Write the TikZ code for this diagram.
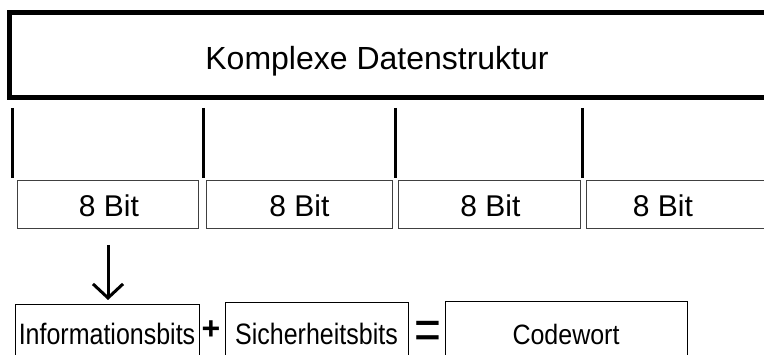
\documentclass[tikz,border=0pt]{standalone}
\usepackage{fontspec}
\setmainfont{Liberation Sans}
\usetikzlibrary{arrows.meta}
\newcommand{\tallbox}[2]{\scalebox{1}[#1]{#2}}
\begin{document}
\begin{tikzpicture}[x=1pt,y=-1pt,
  bigbox/.style={draw,line width=5pt,inner sep=0pt,outer sep=0pt},
  vline/.style={line width=3pt},
  bitbox/.style={draw=black!75,line width=1pt,inner sep=0pt,outer sep=0pt,minimum height=48pt},
  bittext/.style={font=\fontsize{30}{34}\selectfont,inner sep=0pt},
  lowbox/.style={draw,line width=1pt,inner sep=0pt,outer sep=0pt,anchor=north,
    font=\fontsize{25}{30}\selectfont},
  arr/.style={line width=3pt,-{Straight Barb[length=14pt,width=30pt,line width=3pt]}}]
\useasboundingbox (0,0) rectangle (764,355);
\clip (0,0) rectangle (764,355);
% top box
\node[bigbox,anchor=north west,minimum width=800pt,minimum height=85.5pt] (kds) at (9.5,12.5) {};
\node[font=\fontsize{32}{38}\selectfont,inner sep=0pt] (title) at (377,61) {Komplexe Datenstruktur};
% vertical lines
\foreach \i/\x in {1/12,2/203,3/395,4/582}{
  \coordinate (t\i) at (\x,108);
  \coordinate (u\i) at (\x,178);
  \draw[vline] (t\i) -- (u\i);
}
% 8 bit boxes
\node[bitbox,minimum width=181pt] (b1) at (107.5,204.5) {};
\node[bitbox,minimum width=186pt] (b2) at (299,204.5) {};
\node[bitbox,minimum width=182pt] (b3) at (489,204.5) {};
\node[bitbox,minimum width=214pt] (b4) at (693,204.5) {};
\node[bittext] (l1) at (109,205.5) {8 Bit};
\node[bittext] (l2) at (299.5,205.5) {8 Bit};
\node[bittext] (l3) at (490.5,205.5) {8 Bit};
\node[bittext] (l4) at (663,205.5) {8 Bit};
% bottom row
\node[lowbox,minimum width=184pt,minimum height=58pt] (info) at (107,305) {\tallbox{1.18}{Informationsbits}};
\node[lowbox,minimum width=183pt,minimum height=62pt] (sich) at (316.5,303) {\tallbox{1.18}{Sicherheitsbits}};
\node[lowbox,minimum width=242pt,minimum height=64pt] (code) at (566,302) {\tallbox{1.12}{Codewort}};
\node[inner sep=0pt,font=\bfseries\fontsize{32}{34}\selectfont] (plus) at (211,330) {+};
\node[inner sep=0pt,font=\fontsize{46}{48}\selectfont] (eq) at (427.5,335) {\tallbox{1.25}{=}};
% arrow
\coordinate (atop) at (108,245);
\draw[arr,shorten >=5pt] (atop) -- (atop |- info.north);
\end{tikzpicture}
\end{document}
